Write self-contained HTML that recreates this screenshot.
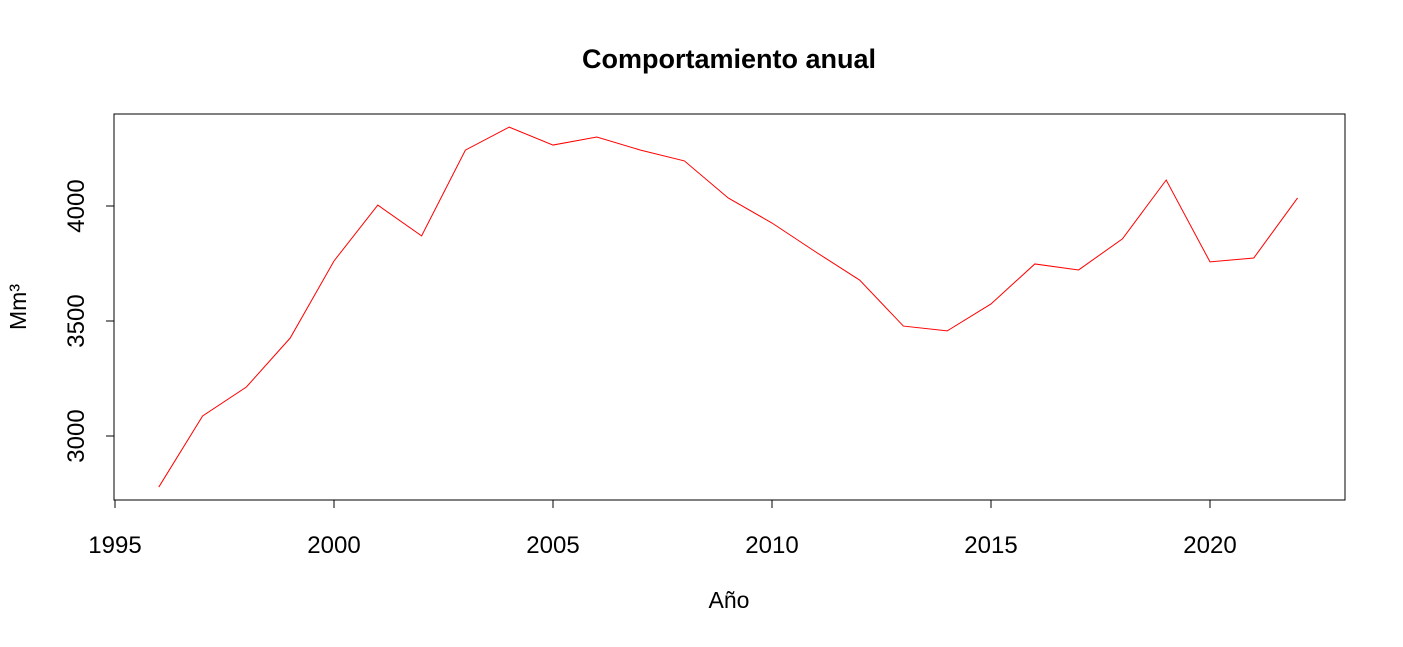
<!DOCTYPE html>
<html><head><meta charset="utf-8"><style>
body{margin:0;background:#fff}
svg text{font-family:"Liberation Sans",Arial,sans-serif;fill:#000}
</style></head><body>
<svg width="1403" height="642">
<text x="729" y="68" font-size="27" font-weight="bold" text-anchor="middle">Comportamiento anual</text>
<rect x="114" y="114" width="1231" height="386" fill="none" stroke="#000" stroke-width="1"/>
<g id="xaxis"></g>
<g id="yaxis"></g>
<polyline id="line" fill="none" stroke="#ff0000" stroke-width="1"/>
<text x="729" y="608" font-size="23" text-anchor="middle">Año</text>
<text transform="translate(26,307) rotate(-90)" font-size="23" text-anchor="middle">Mm³</text>
</svg>
<script>
const years=[1996,1997,1998,1999,2000,2001,2002,2003,2004,2005,2006,2007,2008,2009,2010,2011,2012,2013,2014,2015,2016,2017,2018,2019,2020,2021,2022];
const values=[2778,3087,3213,3426,3761,4004,3870,4243,4343,4265,4300,4243,4196,4035,3926,3800,3678,3478,3457,3574,3748,3722,3857,4113,3757,3774,4035];
const xTicks=[1995,2000,2005,2010,2015,2020];
const yTicks=[3000,3500,4000];
const NS="http://www.w3.org/2000/svg";
function sx(v){return 115+(v-1995)*43.8;}
function sy(v){return 206-(v-4000)*0.23;}
const line=document.getElementById('line');
line.setAttribute('points',years.map((y,i)=>sx(y)+','+sy(values[i])).join(' '));
const xa=document.getElementById('xaxis');
function mk(t,a,p){const e=document.createElementNS(NS,t);for(const k in a)e.setAttribute(k,a[k]);p.appendChild(e);return e;}
mk('line',{x1:sx(xTicks[0]),x2:sx(xTicks[xTicks.length-1]),y1:500,y2:500,stroke:'#000'},xa);
xTicks.forEach(t=>{
 const l=mk('line',{x1:sx(t),x2:sx(t),y1:500,y2:508,stroke:'#000'},xa);
 
 
 const tx=mk('text',{x:sx(t),y:553,'font-size':24,'text-anchor':'middle'},xa);tx.textContent=t;
 
 
});
const ya=document.getElementById('yaxis');
mk('line',{x1:114,x2:114,y1:sy(yTicks[0]),y2:sy(yTicks[yTicks.length-1]),stroke:'#000'},ya);
yTicks.forEach(t=>{
 const l=mk('line',{x1:106,x2:114,y1:sy(t),y2:sy(t),stroke:'#000'},ya);
 
 
 const tx=mk('text',{transform:'translate(84,'+sy(t)+') rotate(-90)','font-size':24,'text-anchor':'middle'},ya);tx.textContent=t;
 
 
});
</script>
</body></html>
